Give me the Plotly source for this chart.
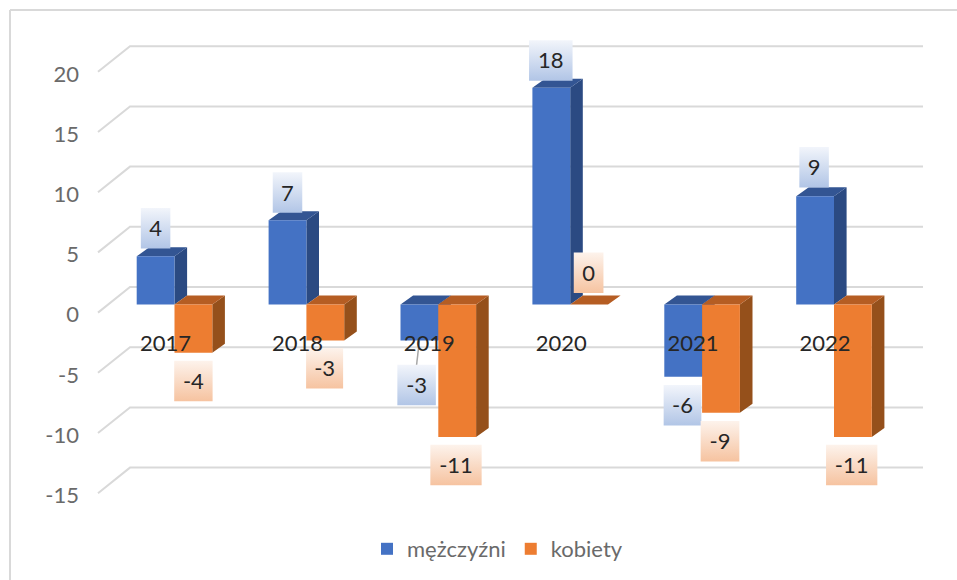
import plotly.graph_objects as go

# ---------- data ----------
years = ["2017", "2018", "2019", "2020", "2021", "2022"]
men = [4, 7, -3, 18, -6, 9]
women = [-4, -3, -11, 0, -9, -11]
y_ticks = [20, 15, 10, 5, 0, -5, -10, -15]
y_tick_labels = ["20", "15", "10", "5", "0", "-5", "-10", "-15"]
series_names = ["mężczyźni", "kobiety"]

# ---------- pixel geometry of the picture ----------
W, H = 957, 580
ML = 84
CAT_PX = 131.9            # px between categories
UNIT_PX = 12.04           # px per value unit
X0_PX = 165.5             # pixel of first category label
ZERO_PX = 304.5           # pixel of value 0 at the bar front
AXIS_ZERO_PX = 314.6      # pixel of value 0 at the axis labels
SLANT_UP_PX = 2.0         # front end of a wall line sits this far above its label
YEAR_LABEL_PX = 345.0     # pixel row of the year labels
TEXT_NUDGE_PX = 2.5       # data label text sits slightly below the box centre
BAR_PX = 37.8
BLUE_LEFT_PX, ORANGE_LEFT_PX = -28.8, 9.0
DEPTH_X_PX, DEPTH_Y_PX = 12.6, 9.0

FONT = "Lato"
FONT_SIZE = 22
TICK_GREY = "#6a6a6a"
DARK = "#262626"
GRID = "#d9d9d9"
STYLE = {
    "blue": dict(front="#4472c4", top="#335593", side="#2b4a82",
                 grad=[[0, "#f2f5fb"], [1, "#b1c5e6"]]),
    "orange": dict(front="#ed7d31", top="#b55d23", side="#95501b",
                   grad=[[0, "#fdf3ec"], [1, "#f6c3a0"]]),
}
# label box placement relative to bar end (px): dx, dy, width
BOX_H = 40.5
men_box = [(0, -28, 29.5), (0, -27.6, 29.5), (-2.8, 44.4, 38.5),
           (-0.5, -27.4, 43.5), (-0.7, 28.6, 37.7), (-1, -29, 29.5)]
women_box = [(0, 28.3, 38.4), (-0.7, 27.7, 37), (-1.2, 28, 51.3),
             (-0.5, -31.8, 29.7), (-1, 28.3, 38.7), (-1.2, 28, 51.3)]


def cx(px):       # x pixel -> category coordinate
    return (px - X0_PX) / CAT_PX


def dcx(px):
    return px / CAT_PX


def dv(px):       # pixel length -> value units
    return px / UNIT_PX


fig = go.Figure()

# ---------- gridlines on the walls (axis y) ----------
gx, gy = [], []
wall_back = dv(AXIS_ZERO_PX - 287.0)
for t in y_ticks:
    gx += [cx(98), cx(130), cx(923), None]
    gy += [t + dv(SLANT_UP_PX), t + wall_back, t + wall_back, None]
fig.add_trace(go.Scatter(x=gx, y=gy, yaxis="y", mode="lines",
                         line=dict(color=GRID, width=2),
                         hoverinfo="skip", showlegend=False, connectgaps=False))


# ---------- bars (axis y2) ----------
def add_series(values, name, style, left_px, z):
    st = STYLE[style]
    left = dcx(left_px)
    width = dcx(BAR_PX)
    ddx, ddy = dcx(DEPTH_X_PX), dv(DEPTH_Y_PX)
    tx, ty, sx, sy = [], [], [], []
    for i, v in enumerate(values):
        hi, lo = max(v, 0), min(v, 0)
        l, r = i + left, i + left + width
        tx += [l, r, r + ddx, l + ddx, l, None]
        ty += [hi, hi, hi + ddy, hi + ddy, hi, None]
        if hi != lo:
            sx += [r, r + ddx, r + ddx, r, r, None]
            sy += [hi, hi + ddy, lo + ddy, lo, hi, None]
    fig.add_trace(go.Scatter(x=sx, y=sy, yaxis="y2", mode="lines", fill="toself",
                             fillcolor=st["side"], line=dict(width=0),
                             hoverinfo="skip", showlegend=False, zorder=z))
    fig.add_trace(go.Scatter(x=tx, y=ty, yaxis="y2", mode="lines", fill="toself",
                             fillcolor=st["top"], line=dict(width=0),
                             hoverinfo="skip", showlegend=False, zorder=z))
    fig.add_trace(go.Bar(x=list(range(len(values))), y=values, yaxis="y2", name=name,
                         width=width, offset=left,
                         marker=dict(color=st["front"], line=dict(width=0)),
                         zorder=z + 1))


add_series(men, series_names[0], "blue", BLUE_LEFT_PX, 1)
add_series(women, series_names[1], "orange", ORANGE_LEFT_PX, 3)


# ---------- data labels ----------
def add_labels(values, boxes, style, left_px):
    center = dcx(left_px + BAR_PX / 2)
    xs, ys, texts = [], [], []
    for i, (v, (dx, dy, w)) in enumerate(zip(values, boxes)):
        x = i + center + dcx(dx)
        y = v - dv(dy)
        half_w, half_h = dcx(w / 2), dv(BOX_H / 2)
        fig.add_trace(go.Scatter(
            x=[x - half_w, x + half_w, x + half_w, x - half_w, x - half_w],
            y=[y - half_h, y - half_h, y + half_h, y + half_h, y - half_h],
            yaxis="y2", mode="lines", fill="toself", line=dict(width=0),
            fillgradient=dict(type="vertical", colorscale=STYLE[style]["grad"],
                              start=y + half_h, stop=y - half_h),
            hoverinfo="skip", showlegend=False, zorder=5))
        xs.append(x)
        ys.append(y - dv(TEXT_NUDGE_PX))
        texts.append(str(v))
    fig.add_trace(go.Scatter(x=xs, y=ys, yaxis="y2", mode="text", text=texts,
                             textposition="middle center",
                             textfont=dict(family=FONT, size=FONT_SIZE, color=DARK),
                             hoverinfo="skip", showlegend=False, zorder=7))


# leader line of the 2019 men's label
i19 = years.index("2019")
lead_c = dcx(BLUE_LEFT_PX + BAR_PX / 2)
lead_dx, lead_dy, _ = men_box[i19]
fig.add_trace(go.Scatter(
    x=[i19 + lead_c, i19 + lead_c + dcx(lead_dx)],
    y=[men[i19], men[i19] - dv(lead_dy - BOX_H / 2)],
    yaxis="y2", mode="lines", line=dict(color="#a6a6a6", width=1.5),
    hoverinfo="skip", showlegend=False, zorder=6))

add_labels(men, men_box, "blue", BLUE_LEFT_PX)
add_labels(women, women_box, "orange", ORANGE_LEFT_PX)

# year labels sit on top of the bars
year_row = dv(ZERO_PX - YEAR_LABEL_PX)
fig.add_trace(go.Scatter(x=list(range(len(years))), y=[year_row] * len(years), yaxis="y2",
                         mode="text", text=years, textposition="middle center",
                         textfont=dict(family=FONT, size=FONT_SIZE, color=DARK),
                         hoverinfo="skip", showlegend=False, zorder=8))

# ---------- layout ----------
plot_w = W - ML


def px_paper(px):
    return (px - ML) / plot_w


fig.update_layout(
    width=W, height=H,
    margin=dict(l=ML, r=0, t=0, b=0, pad=0),
    paper_bgcolor="white", plot_bgcolor="white",
    barmode="overlay",
    font=dict(family=FONT, size=FONT_SIZE, color=TICK_GREY),
    xaxis=dict(range=[cx(ML), cx(W)], showticklabels=False,
               showgrid=False, zeroline=False, showline=False, ticks=""),
    yaxis=dict(range=[(AXIS_ZERO_PX - H) / UNIT_PX, AXIS_ZERO_PX / UNIT_PX],
               tickmode="array", tickvals=y_ticks, ticktext=y_tick_labels,
               tickfont=dict(family=FONT, size=FONT_SIZE, color=TICK_GREY),
               showgrid=False, zeroline=False, showline=False, ticks="",
               ticklabelstandoff=4),
    yaxis2=dict(range=[(ZERO_PX - H) / UNIT_PX, ZERO_PX / UNIT_PX],
                overlaying="y", visible=False),
    legend=dict(orientation="h", x=px_paper(367), xanchor="left",
                y=(H - 549) / H, yanchor="middle",
                font=dict(family=FONT, size=FONT_SIZE, color=TICK_GREY),
                bgcolor="rgba(0,0,0,0)"),
    shapes=[
        dict(type="line", xref="paper", yref="paper", x0=px_paper(10), x1=px_paper(10),
             y0=0, y1=(H - 10) / H, line=dict(color=GRID, width=2)),
        dict(type="line", xref="paper", yref="paper", x0=px_paper(10), x1=1,
             y0=(H - 10) / H, y1=(H - 10) / H, line=dict(color=GRID, width=2)),
    ],
)

fig.write_html("out.html", config=dict(displayModeBar=False),
               post_script="document.body.style.margin='0';")
